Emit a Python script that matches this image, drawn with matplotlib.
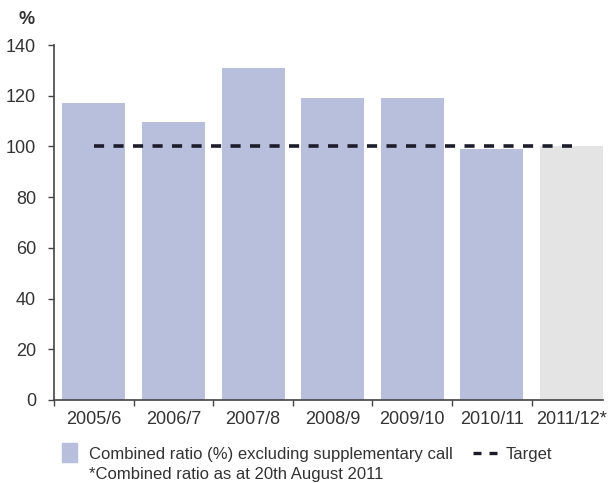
import matplotlib
matplotlib.use("Agg")
import matplotlib.pyplot as plt
from matplotlib.patches import Rectangle
from matplotlib.lines import Line2D
import numpy as np

plt.rcParams["font.family"] = ["Liberation Sans", "DejaVu Sans"]

# ----------------------------------------------------------------------
# Combined ratio by underwriting year
# ----------------------------------------------------------------------

periods = ["2005/6", "2006/7", "2007/8", "2008/9", "2009/10", "2010/11", "2011/12*"]
combined_ratio = [117, 109.5, 131, 119, 119, 99, 100]
is_interim = [False, False, False, False, False, False, True]
target = 100

BAR_COLOR = "#b7bfdd"
INTERIM_COLOR = "#e4e4e4"
TEXT_COLOR = "#333333"
AXIS_COLOR = "#444444"
LINE_COLOR = "#1c1c2a"

W, H = 610, 483


def fx(px):
    return px / W


def fy(py):
    return 1 - py / H


fig = plt.figure(figsize=(W / 100, H / 100), dpi=100)
ax = fig.add_axes([fx(54), fy(400), fx(603) - fx(54), fy(45) - fy(400)])

x = np.arange(len(periods))
colors = [INTERIM_COLOR if f else BAR_COLOR for f in is_interim]
ax.bar(x, combined_ratio, width=0.79, color=colors, zorder=1)

# target line runs from the first to the last category centre
ax.plot([x[0], x[-1]], [target, target], color=LINE_COLOR, lw=2.6,
        dashes=(2.8, 2.6), zorder=3)

ax.set_xlim(-0.5, len(periods) - 1 + 0.395)
ax.set_ylim(0, 140)
ax.set_yticks(np.arange(0, 141, 20))

# labels centred on bars, tick marks on category boundaries
ax.set_xticks(x)
ax.set_xticklabels(periods)
ax.set_xticks(np.arange(-0.5, len(periods) - 0.5), minor=True)
ax.tick_params(axis="x", which="major", length=0, pad=8,
               labelsize=13, labelcolor=TEXT_COLOR)
ax.tick_params(axis="x", which="minor", length=4, width=1, color=AXIS_COLOR)
ax.tick_params(axis="y", length=4, width=1, color=AXIS_COLOR, pad=9,
               labelsize=13, labelcolor=TEXT_COLOR)

for side in ("top", "right"):
    ax.spines[side].set_visible(False)
for side in ("left", "bottom"):
    ax.spines[side].set_color(AXIS_COLOR)
    ax.spines[side].set_linewidth(1.2)

fig.text(fx(27), fy(19), "%", fontsize=13, color=TEXT_COLOR,
         ha="center", va="center", fontweight="bold")

# legend and footnote
fig.add_artist(Rectangle((fx(62), fy(462)), fx(15), 19 / H,
                         transform=fig.transFigure, color=BAR_COLOR))
fig.text(fx(89), fy(454), "Combined ratio (%) excluding supplementary call",
         fontsize=12, color=TEXT_COLOR, va="center")
# two short dashes for the target key
for x0 in (473, 489):
    fig.add_artist(Line2D([fx(x0), fx(x0 + 8)], [fy(453), fy(453)],
                          transform=fig.transFigure, color=LINE_COLOR,
                          lw=2.4, solid_capstyle="butt"))
fig.text(fx(506), fy(454), "Target", fontsize=12,
         color=TEXT_COLOR, va="center")
fig.text(fx(89), fy(475), "*Combined ratio as at 20th August 2011",
         fontsize=12, color=TEXT_COLOR, va="center")

fig.savefig("out.png", dpi=100)
